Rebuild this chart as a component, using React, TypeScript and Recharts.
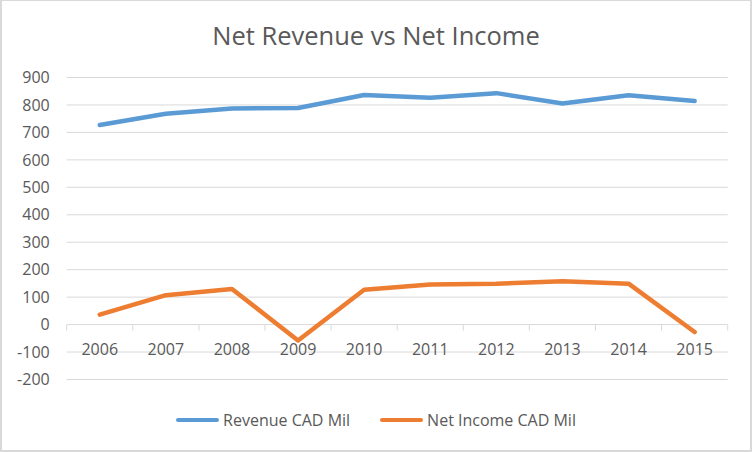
import React from 'react';
import { LineChart, Line, XAxis, YAxis, CartesianGrid, ReferenceDot } from 'recharts';

const years = ['2006', '2007', '2008', '2009', '2010', '2011', '2012', '2013', '2014', '2015'];
const revenue = [727, 768, 787, 789, 836, 826, 843, 805, 835, 814];
const netIncome = [36, 107, 130, -58, 127, 146, 149, 158, 149, -27];
const yTicks = [-200, -100, 0, 100, 200, 300, 400, 500, 600, 700, 800, 900];

const BLUE = '#5B9BD5';
const ORANGE = '#ED7D31';
const TEXT = '#595959';
const GRID = '#d9d9d9';
const FONT = '"Open Sans", sans-serif';

const data = years.map((y, i) => ({ x: i + 0.5, year: y, revenue: revenue[i], netIncome: netIncome[i] }));
const boundaries = years.map((_, i) => i).concat([years.length]);

const TickMark = (props: any) => (
  <line x1={props.cx} x2={props.cx} y1={props.cy} y2={props.cy + 6} stroke={GRID} strokeWidth={1} />
);

const makeLabel = (text: string) => (props: any) => (
  <text x={props.cx} y={props.cy + 30} textAnchor="middle" fill={TEXT} fontSize={16} fontFamily={FONT}>
    {text}
  </text>
);

export default function App() {
  return (
    <div
      style={{
        position: 'absolute',
        left: 0,
        top: 0,
        width: 752,
        height: 452,
        boxSizing: 'border-box',
        borderTop: '1px solid #d9d9d9',
        borderLeft: '2px solid #d9d9d9',
        borderRight: '2px solid #d9d9d9',
        borderBottom: '2px solid #d9d9d9',
        background: '#fff',
        fontFamily: FONT,
      }}
    >
      <div
        style={{
          position: 'absolute',
          left: 0,
          top: 18,
          width: 748,
          textAlign: 'center',
          fontSize: 25.5,
          color: TEXT,
          lineHeight: '32px',
        }}
      >
        Net Revenue vs Net Income
      </div>
      <div style={{ position: 'absolute', left: -2, top: -1 }}>
        <LineChart width={752} height={452} data={data} margin={{ top: 77.5, right: 24.3, bottom: 72.5, left: 6.7 }}>
          <CartesianGrid vertical={false} stroke={GRID} strokeWidth={1} />
          <XAxis type="number" dataKey="x" domain={[0, years.length]} hide />
          <YAxis
            width={60}
            domain={[-200, 900]}
            ticks={yTicks}
            interval={0}
            axisLine={false}
            tickLine={false}
            tickSize={6}
            tickMargin={11}
            tick={{ fill: TEXT, fontSize: 16, fontFamily: FONT }}
          />
          {boundaries.map((b) => (
            <ReferenceDot key={'t' + b} x={b} y={0} r={0} shape={TickMark} />
          ))}
          {data.map((d) => (
            <ReferenceDot key={'l' + d.year} x={d.x} y={0} r={0} shape={makeLabel(d.year)} />
          ))}
          <Line
            dataKey="revenue"
            stroke={BLUE}
            strokeWidth={4.5}
            strokeLinecap="round"
            strokeLinejoin="round"
            dot={false}
            isAnimationActive={false}
          />
          <Line
            dataKey="netIncome"
            stroke={ORANGE}
            strokeWidth={4.5}
            strokeLinecap="round"
            strokeLinejoin="round"
            dot={false}
            isAnimationActive={false}
          />
        </LineChart>
      </div>
      <div
        style={{
          position: 'absolute',
          left: 0,
          top: 408,
          width: 748,
          display: 'flex',
          justifyContent: 'center',
          alignItems: 'center',
          fontSize: 16,
          color: TEXT,
          lineHeight: '22px',
        }}
      >
        <div style={{ display: 'flex', alignItems: 'center', marginRight: 30 }}>
          <span style={{ display: 'inline-block', width: 43, height: 4.5, borderRadius: 3, background: BLUE, marginRight: 4 }} />
          <span>Revenue CAD Mil</span>
        </div>
        <div style={{ display: 'flex', alignItems: 'center' }}>
          <span style={{ display: 'inline-block', width: 43, height: 4.5, borderRadius: 3, background: ORANGE, marginRight: 4 }} />
          <span>Net Income CAD Mil</span>
        </div>
      </div>
    </div>
  );
}
